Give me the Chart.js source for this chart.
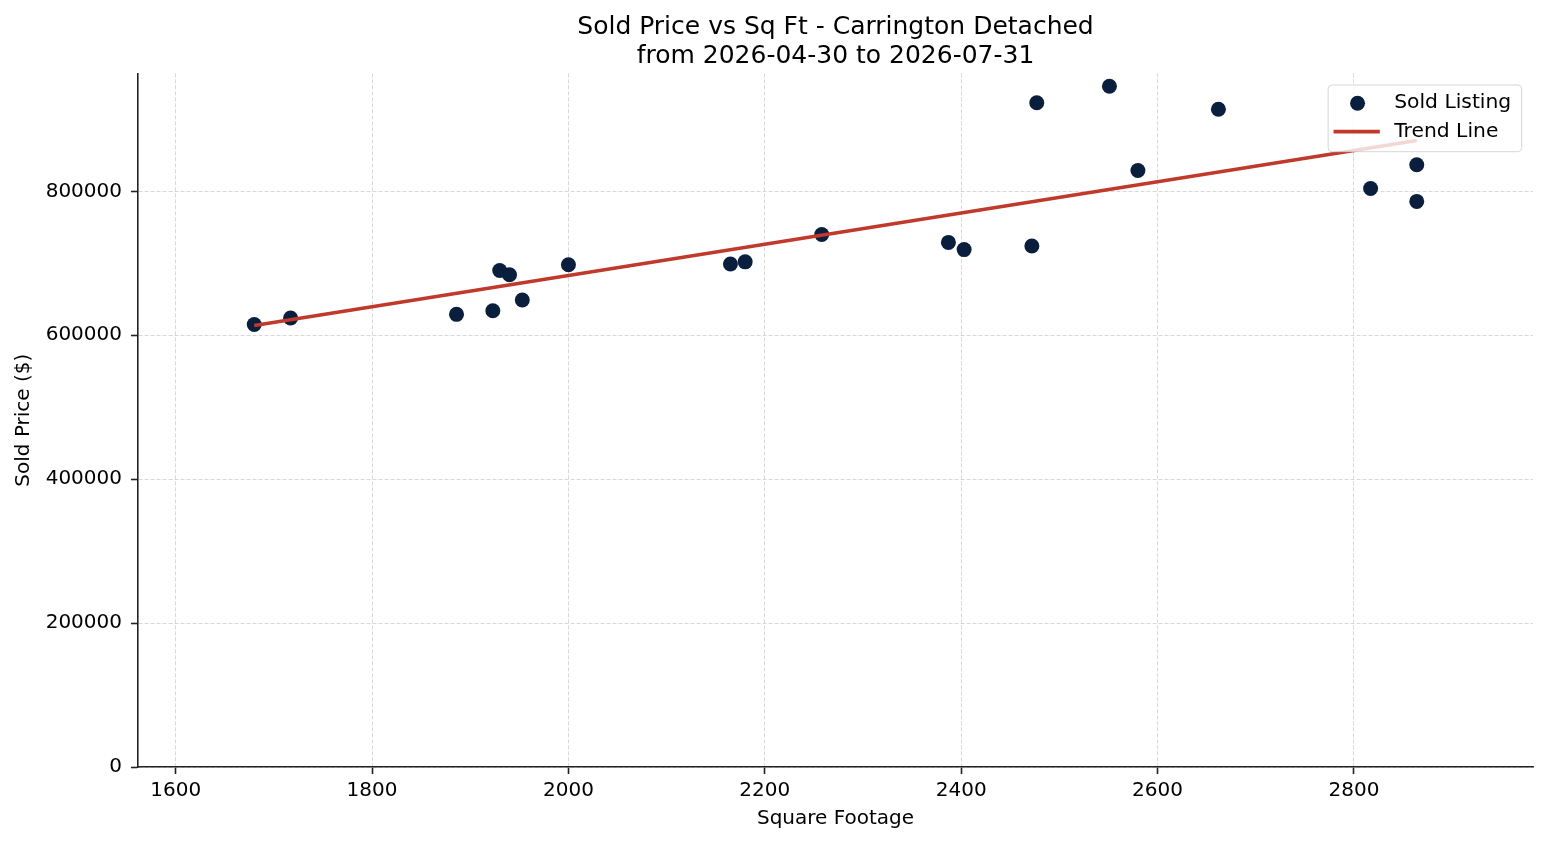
<!DOCTYPE html>
<html>
<head>
<meta charset="utf-8">
<title>Sold Price vs Sq Ft - Carrington Detached</title>
<script src="https://cdn.jsdelivr.net/npm/chart.js@4.4.1/dist/chart.umd.min.js"></script>
<style>
  html, body { margin: 0; padding: 0; background: #ffffff; overflow: hidden; }
  #wrap { width: 1547px; height: 845px; }
</style>
</head>
<body>
<div id="wrap"><canvas id="c" width="1547" height="845"></canvas></div>
<script>
// ---- data ----
const titleLines = ['Sold Price vs Sq Ft - Carrington Detached', 'from 2026-04-30 to 2026-07-31'];
const xTitle = 'Square Footage';
const yTitle = 'Sold Price ($)';
const scatterLabel = 'Sold Listing';
const trendLabel = 'Trend Line';

const sqft  = [1680, 1717, 1886, 1923, 1930, 1940, 1953, 2000, 2165, 2180, 2258,
               2387, 2403, 2472, 2477, 2551, 2580, 2662, 2817, 2864, 2864];
const price = [615000, 624000, 629000, 634000, 690000, 684000, 649000, 698000, 699000, 702000, 740000,
               729000, 719000, 724000, 923000, 946000, 829000, 914000, 804000, 837000, 786000];

const trendX = [1680, 2864];
const trendY = [613600, 870500];

const xTicks = [1600, 1800, 2000, 2200, 2400, 2600, 2800];
const yTicks = [0, 200000, 400000, 600000, 800000];

const xRange = [1561.6, 2982.4];
const yRange = [0, 964000];

// ---- styles ----
const FONT = '"DejaVu Sans", "Liberation Sans", sans-serif';
const POINT_COLOR = '#0a1f3d';
const TREND_COLOR = '#c0392b';
const AXIS_COLOR = '#222222';
const GRID_COLOR = 'rgba(160,160,160,0.45)';

Chart.defaults.font.family = FONT;
Chart.defaults.color = '#000000';

const scatterPoints = sqft.map((x, i) => ({ x: x, y: price[i] }));
const trendPoints = trendX.map((x, i) => ({ x: x, y: trendY[i] }));

function roundRectPath(ctx, x, y, w, h, r) {
  ctx.beginPath();
  ctx.moveTo(x + r, y);
  ctx.lineTo(x + w - r, y);
  ctx.arcTo(x + w, y, x + w, y + r, r);
  ctx.lineTo(x + w, y + h - r);
  ctx.arcTo(x + w, y + h, x + w - r, y + h, r);
  ctx.lineTo(x + r, y + h);
  ctx.arcTo(x, y + h, x, y + h - r, r);
  ctx.lineTo(x, y + r);
  ctx.arcTo(x, y, x + r, y, r);
  ctx.closePath();
}

const mplLegend = {
  id: 'mplLegend',
  afterDraw(chart) {
    const ctx = chart.ctx;
    const ca = chart.chartArea;
    const ds = chart.data.datasets;
    ctx.save();
    ctx.font = '20.3px ' + FONT;
    const tw = Math.max.apply(null, ds.map(d => ctx.measureText(d.label).width));
    const w = 66 + tw + 10.5;
    const h = 66.7;
    const x = ca.right - 11.3 - w;
    const y = ca.top + 11.7;
    roundRectPath(ctx, x, y, w, h, 4);
    ctx.fillStyle = 'rgba(255,255,255,0.8)';
    ctx.fill();
    ctx.lineWidth = 1;
    ctx.strokeStyle = 'rgba(204,204,204,0.8)';
    ctx.stroke();

    const rows = [y + 17.8, y + 46.6];
    ds.forEach((d, i) => {
      const ry = rows[i];
      if (d.showLine) {
        ctx.beginPath();
        ctx.moveTo(x + 5.4, ry);
        ctx.lineTo(x + 51.7, ry);
        ctx.lineWidth = d.borderWidth;
        ctx.strokeStyle = d.borderColor;
        ctx.stroke();
      } else {
        ctx.beginPath();
        ctx.arc(x + 29.4, ry + 0.5, d.pointRadius, 0, Math.PI * 2);
        ctx.fillStyle = d.backgroundColor;
        ctx.fill();
      }
      ctx.fillStyle = '#000000';
      ctx.textBaseline = 'middle';
      ctx.textAlign = 'left';
      ctx.fillText(d.label, x + 66, ry);
    });
    ctx.restore();
  }
};

function fixedTicks(values) {
  return function (scale) {
    scale.ticks = values.map(v => ({ value: v }));
  };
}

new Chart(document.getElementById('c'), {
  type: 'scatter',
  data: {
    datasets: [
      {
        label: scatterLabel,
        data: scatterPoints,
        showLine: false,
        pointRadius: 7.5,
        pointHoverRadius: 7.5,
        pointBorderWidth: 0,
        borderWidth: 0,
        backgroundColor: POINT_COLOR,
        borderColor: POINT_COLOR,
        order: 2
      },
      {
        label: trendLabel,
        data: trendPoints,
        showLine: true,
        pointRadius: 0,
        borderWidth: 3.6,
        borderColor: TREND_COLOR,
        backgroundColor: TREND_COLOR,
        fill: false,
        order: 1
      }
    ]
  },
  options: {
    responsive: false,
    animation: false,
    events: [],
    layout: { padding: { left: 0, right: 14, top: 0, bottom: 0 } },
    plugins: {
      legend: { display: false },
      tooltip: { enabled: false },
      title: {
        display: true,
        fullSize: false,
        text: titleLines,
        color: '#000000',
        font: { size: 25, weight: 'normal', family: FONT, lineHeight: '29px' },
        padding: { top: 12.5, bottom: 2.8 }
      }
    },
    scales: {
      x: {
        type: 'linear',
        position: 'bottom',
        min: xRange[0],
        max: xRange[1],
        afterFit(scale) { scale.height = 78; },
        afterBuildTicks: fixedTicks(xTicks),
        ticks: {
          autoSkip: false,
          padding: 5,
          color: '#000000',
          font: { size: 20, family: FONT },
          maxRotation: 0,
          callback: v => String(v)
        },
        grid: {
          color: GRID_COLOR,
          lineWidth: 0.9,
          drawTicks: true,
          tickLength: 7,
          tickWidth: 1.6,
          tickColor: AXIS_COLOR
        },
        border: { display: true, color: AXIS_COLOR, width: 1.6, dash: [4, 2] },
        title: {
          display: true,
          text: xTitle,
          color: '#000000',
          font: { size: 20, family: FONT, lineHeight: 1.2 },
          padding: { top: 0, bottom: 14.5 }
        }
      },
      y: {
        type: 'linear',
        position: 'left',
        min: yRange[0],
        max: yRange[1],
        afterFit(scale) { scale.width = 138; },
        afterBuildTicks: fixedTicks(yTicks),
        ticks: {
          autoSkip: false,
          padding: 9,
          color: '#000000',
          font: { size: 20, family: FONT },
          callback: v => String(v)
        },
        grid: {
          color: GRID_COLOR,
          lineWidth: 0.9,
          drawTicks: true,
          tickLength: 7,
          tickWidth: 1.6,
          tickColor: AXIS_COLOR
        },
        border: { display: true, color: AXIS_COLOR, width: 1.6, dash: [4, 2] },
        title: {
          display: true,
          text: yTitle,
          color: '#000000',
          font: { size: 20, family: FONT, lineHeight: 1.2 },
          padding: { top: 12, bottom: 0 }
        }
      }
    }
  },
  plugins: [mplLegend]
});
</script>
</body>
</html>
